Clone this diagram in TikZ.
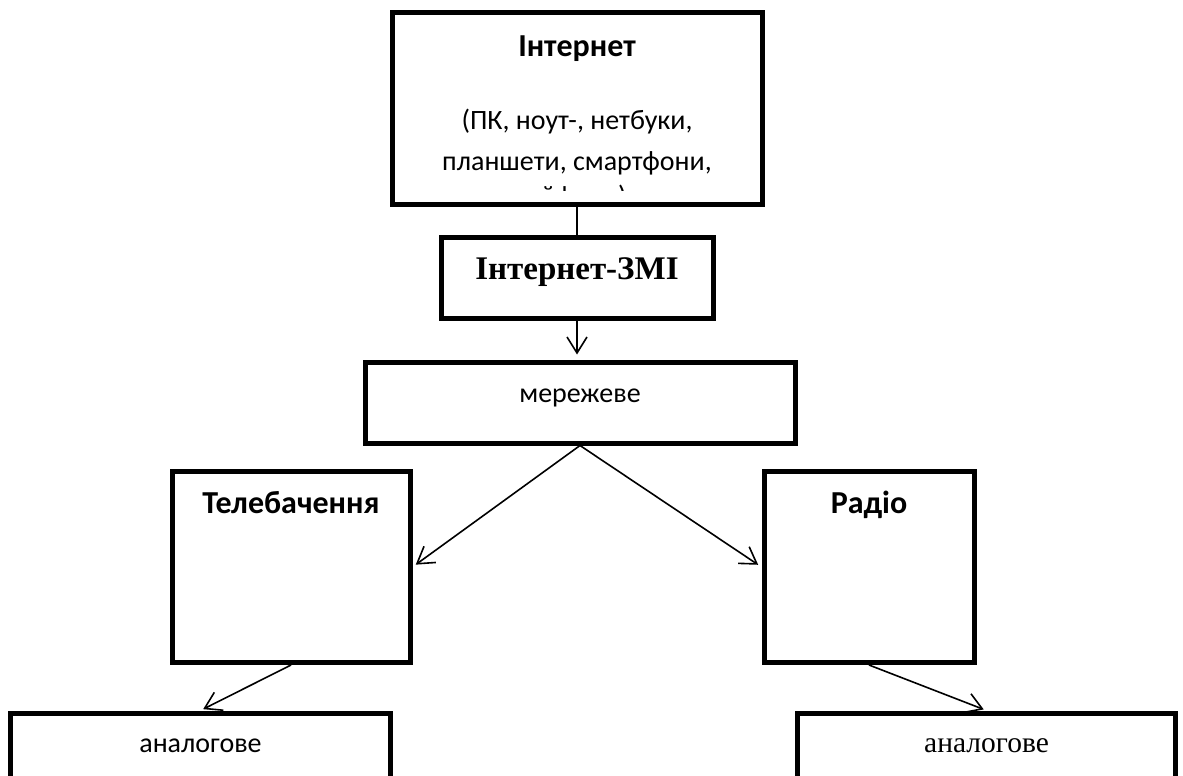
\documentclass[tikz,border=0pt]{standalone}
\usepackage{fontspec}
\setmainfont{Carlito}
\newfontfamily\serifrm{Liberation Serif}
\usetikzlibrary{arrows.meta}

\begin{document}
\begin{tikzpicture}[x=1pt, y=-1pt, >={Straight Barb[length=16pt,width=20pt]},
	box/.style={draw, line width=5pt, inner sep=0pt, anchor=north, font=\fontsize{28}{34}\selectfont},
	head/.style={font=\bfseries\fontsize{32}{38}\selectfont},
	devline/.style={anchor=base, font=\fontsize{28}{34}\selectfont},
	link/.style={line width=1.6pt}]
	\useasboundingbox (0,0) rectangle (1183,776);
	
	% list of devices, cut off above the bottom edge of the box
	\begin{scope}
		\clip (392,10) rectangle (762,190.5);
		\node[devline](dev1) at (577,129) {(ПК, ноут-, нетбуки,};
		\node[devline](dev2) at (577,170) {планшети, смартфони,};
		\node[devline](dev3) at (577,205) {айфони)};
	\end{scope}
	\node[box, head, minimum width=370pt, text height=44pt, text depth=148pt](internet) at (577,10) {Інтернет};
	\node[box, minimum width=272pt, text height=42.5pt, text depth=38.5pt, font=\serifrm\bfseries\fontsize{33}{40}\selectfont](media) at (577,234.5) {Інтернет-ЗМІ};
	\node[box, minimum width=430pt, text height=40pt, text depth=40.5pt](net) at (580,360) {мережеве};
	
	\node[box, head, minimum width=238pt, text height=42pt, text depth=149pt](tv) at (291,469) {Телебачення};
	\node[box, head, minimum width=210pt, text height=42pt, text depth=149pt](radio) at (869,469) {Радіо};
	
	\node[box, minimum width=380pt, text height=39.5pt, text depth=80pt](analogtv) at (200.5,710.5) {аналогове};
	\node[box, minimum width=378pt, text height=39.5pt, text depth=80pt, font=\serifrm\fontsize{29.5}{36}\selectfont](analogradio) at (986.5,710.5) {аналогове};
	
	\draw[link] (internet) -- (media);
	\draw[link, ->, shorten >=5.5pt] (media) -- (net.north -| media);
	\draw[link, ->, shorten >=4pt] (net.south) -- (tv.east);
	\draw[link, ->, shorten >=4pt] (net.south) -- (radio.west);
	\draw[link, ->, shorten >=3pt] (tv.south) -- (analogtv.north);
	\draw[link, ->, shorten >=3pt] (radio.south) -- (analogradio.north);
\end{tikzpicture}
\end{document}
